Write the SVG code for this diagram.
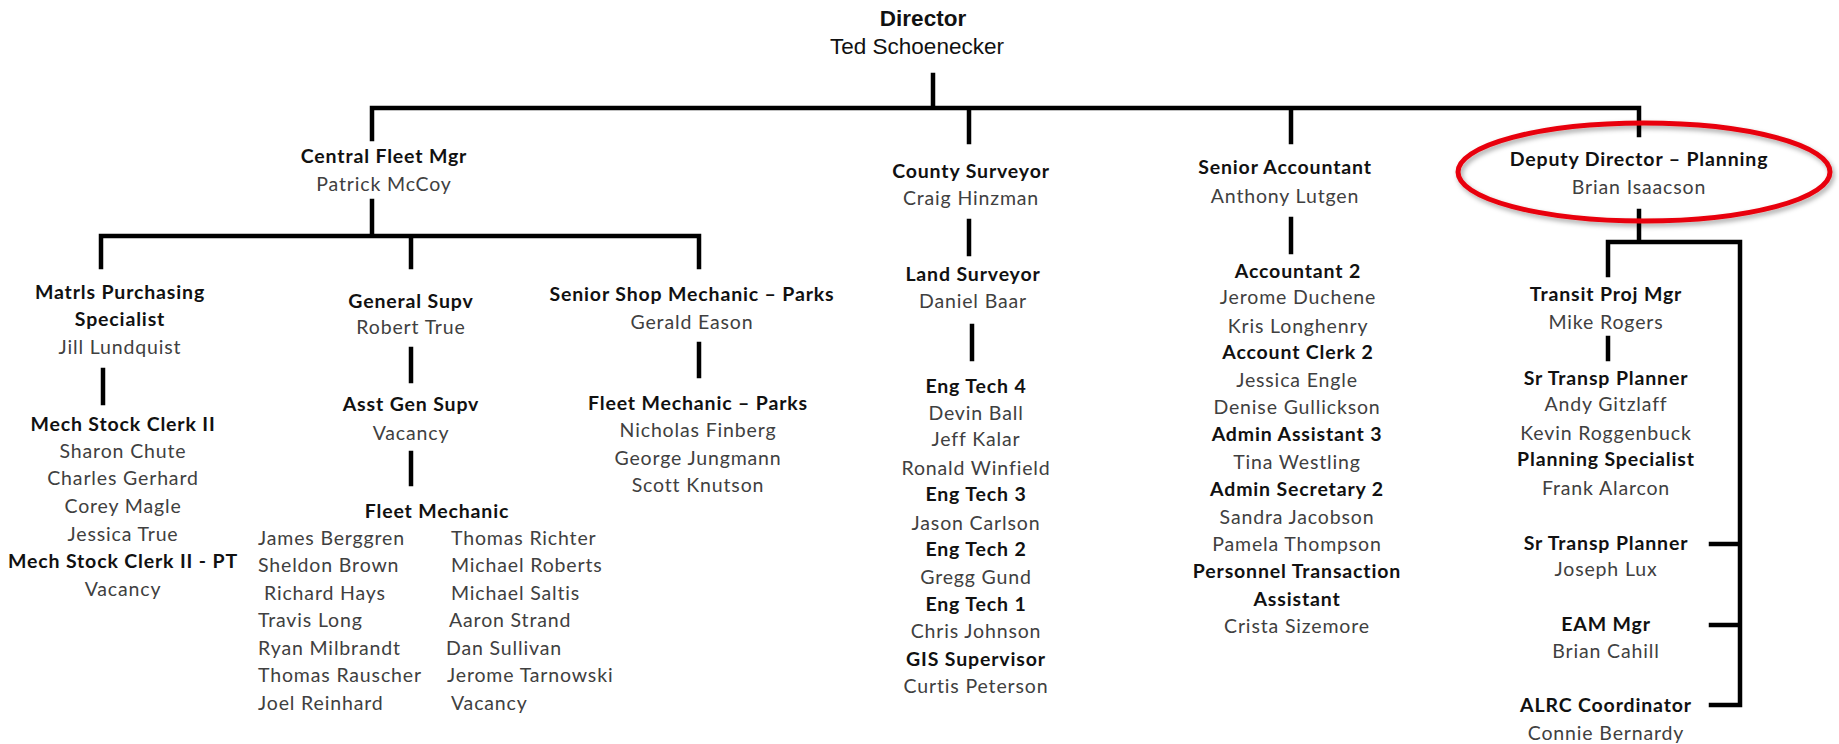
<svg xmlns="http://www.w3.org/2000/svg" width="1839" height="744" viewBox="0 0 1839 744">
<defs>
<style>
text{font-family:Lato,"Open Sans","Liberation Sans",sans-serif;font-size:19.5px;letter-spacing:0.85px;text-anchor:middle}
.t{font-weight:bold;fill:#111}
.n{fill:#404040}
.l{text-anchor:start}
.dir{font-family:"Liberation Sans",Arial,sans-serif;font-size:22.5px;letter-spacing:0;fill:#111}
.c{stroke:#000;stroke-width:4.5;fill:none;stroke-linecap:square}
</style>
<filter id="sh" x="-10%" y="-20%" width="120%" height="150%">
<feDropShadow dx="2" dy="3" stdDeviation="2.5" flood-color="#000" flood-opacity="0.35"/>
</filter>
</defs>
<rect width="1839" height="744" fill="#fff"/>
<g id="connectors" class="c">
<path d="M933 75V108M372 108H1639M372 108V139M969 108V142M1291 108V142M1639 108V135"/>
<path d="M372 201V235M101 236H699M101 236V267M411 236V267M699 236V267"/>
<path d="M103 370V403M411 349V381M411 453V484M699 344V376"/>
<path d="M969 221V254M972 326V359M1291 219V252"/>
<path d="M1639 211V242M1608 242H1740V705M1608 242V275M1608 338V359M1711 544H1740M1711 625H1740M1711 705H1740"/>
</g>
<g id="director">
<text class="dir" x="923" y="26" font-weight="bold">Director</text>
<text class="dir" x="917" y="54">Ted Schoenecker</text>
</g>
<g id="central-fleet-mgr">
<text class="t" x="384" y="163">Central Fleet Mgr</text>
<text class="n" x="384" y="191">Patrick McCoy</text>
</g>
<g id="matrls-purchasing">
<text class="t" x="120" y="299">Matrls Purchasing</text>
<text class="t" x="120" y="326">Specialist</text>
<text class="n" x="120" y="354">Jill Lundquist</text>
</g>
<g id="mech-stock-clerk">
<text class="t" x="123" y="431">Mech Stock Clerk II</text>
<text class="n" x="123" y="458">Sharon Chute</text>
<text class="n" x="123" y="485">Charles Gerhard</text>
<text class="n" x="123" y="513">Corey Magle</text>
<text class="n" x="123" y="541">Jessica True</text>
<text class="t" x="123" y="568">Mech Stock Clerk II - PT</text>
<text class="n" x="123" y="596">Vacancy</text>
</g>
<g id="general-supv">
<text class="t" x="411" y="308">General Supv</text>
<text class="n" x="411" y="334">Robert True</text>
</g>
<g id="asst-gen-supv">
<text class="t" x="411" y="411">Asst Gen Supv</text>
<text class="n" x="411" y="440">Vacancy</text>
</g>
<g id="fleet-mechanic">
<text class="t" x="437" y="518">Fleet Mechanic</text>
<text class="n l" x="258" y="545">James Berggren</text>
<text class="n l" x="258" y="572">Sheldon Brown</text>
<text class="n l" x="264" y="600">Richard Hays</text>
<text class="n l" x="258" y="627">Travis Long</text>
<text class="n l" x="258" y="655">Ryan Milbrandt</text>
<text class="n l" x="258" y="682">Thomas Rauscher</text>
<text class="n l" x="258" y="710">Joel Reinhard</text>
<text class="n l" x="451" y="545">Thomas Richter</text>
<text class="n l" x="451" y="572">Michael Roberts</text>
<text class="n l" x="451" y="600">Michael Saltis</text>
<text class="n l" x="449" y="627">Aaron Strand</text>
<text class="n l" x="446" y="655">Dan Sullivan</text>
<text class="n l" x="447" y="682">Jerome Tarnowski</text>
<text class="n l" x="451" y="710">Vacancy</text>
</g>
<g id="senior-shop-mechanic">
<text class="t" x="692" y="301">Senior Shop Mechanic – Parks</text>
<text class="n" x="692" y="329">Gerald Eason</text>
</g>
<g id="fleet-mechanic-parks">
<text class="t" x="698" y="410">Fleet Mechanic – Parks</text>
<text class="n" x="698" y="437">Nicholas Finberg</text>
<text class="n" x="698" y="465">George Jungmann</text>
<text class="n" x="698" y="492">Scott Knutson</text>
</g>
<g id="county-surveyor">
<text class="t" x="971" y="178">County Surveyor</text>
<text class="n" x="971" y="205">Craig Hinzman</text>
</g>
<g id="land-surveyor">
<text class="t" x="973" y="281">Land Surveyor</text>
<text class="n" x="973" y="308">Daniel Baar</text>
</g>
<g id="eng-techs">
<text class="t" x="976" y="393">Eng Tech 4</text>
<text class="n" x="976" y="420">Devin Ball</text>
<text class="n" x="976" y="446">Jeff Kalar</text>
<text class="n" x="976" y="475">Ronald Winfield</text>
<text class="t" x="976" y="501">Eng Tech 3</text>
<text class="n" x="976" y="530">Jason Carlson</text>
<text class="t" x="976" y="556">Eng Tech 2</text>
<text class="n" x="976" y="584">Gregg Gund</text>
<text class="t" x="976" y="611">Eng Tech 1</text>
<text class="n" x="976" y="638">Chris Johnson</text>
<text class="t" x="976" y="666">GIS Supervisor</text>
<text class="n" x="976" y="693">Curtis Peterson</text>
</g>
<g id="senior-accountant">
<text class="t" x="1285" y="174">Senior Accountant</text>
<text class="n" x="1285" y="203">Anthony Lutgen</text>
</g>
<g id="accounting-staff">
<text class="t" x="1298" y="278">Accountant 2</text>
<text class="n" x="1298" y="304">Jerome Duchene</text>
<text class="n" x="1298" y="333">Kris Longhenry</text>
<text class="t" x="1298" y="359">Account Clerk 2</text>
<text class="n" x="1297" y="387">Jessica Engle</text>
<text class="n" x="1297" y="414">Denise Gullickson</text>
<text class="t" x="1297" y="441">Admin Assistant 3</text>
<text class="n" x="1297" y="469">Tina Westling</text>
<text class="t" x="1297" y="496">Admin Secretary 2</text>
<text class="n" x="1297" y="524">Sandra Jacobson</text>
<text class="n" x="1297" y="551">Pamela Thompson</text>
<text class="t" x="1297" y="578">Personnel Transaction</text>
<text class="t" x="1297" y="606">Assistant</text>
<text class="n" x="1297" y="633">Crista Sizemore</text>
</g>
<g id="deputy-director">
<text class="t" x="1639" y="166">Deputy Director – Planning</text>
<text class="n" x="1639" y="194">Brian Isaacson</text>
</g>
<g id="highlight">
<ellipse cx="1644" cy="172" rx="186" ry="49" fill="none" stroke="#e8000b" stroke-width="5" filter="url(#sh)"/>
</g>
<g id="transit-proj-mgr">
<text class="t" x="1606" y="301">Transit Proj Mgr</text>
<text class="n" x="1606" y="329">Mike Rogers</text>
</g>
<g id="planning-staff">
<text class="t" x="1606" y="385">Sr Transp Planner</text>
<text class="n" x="1606" y="411">Andy Gitzlaff</text>
<text class="n" x="1606" y="440">Kevin Roggenbuck</text>
<text class="t" x="1606" y="466">Planning Specialist</text>
<text class="n" x="1606" y="495">Frank Alarcon</text>
</g>
<g id="sr-transp-planner">
<text class="t" x="1606" y="550">Sr Transp Planner</text>
<text class="n" x="1606" y="576">Joseph Lux</text>
</g>
<g id="eam-mgr">
<text class="t" x="1606" y="631">EAM Mgr</text>
<text class="n" x="1606" y="658">Brian Cahill</text>
</g>
<g id="alrc-coordinator">
<text class="t" x="1606" y="712">ALRC Coordinator</text>
<text class="n" x="1606" y="740">Connie Bernardy</text>
</g>
</svg>
